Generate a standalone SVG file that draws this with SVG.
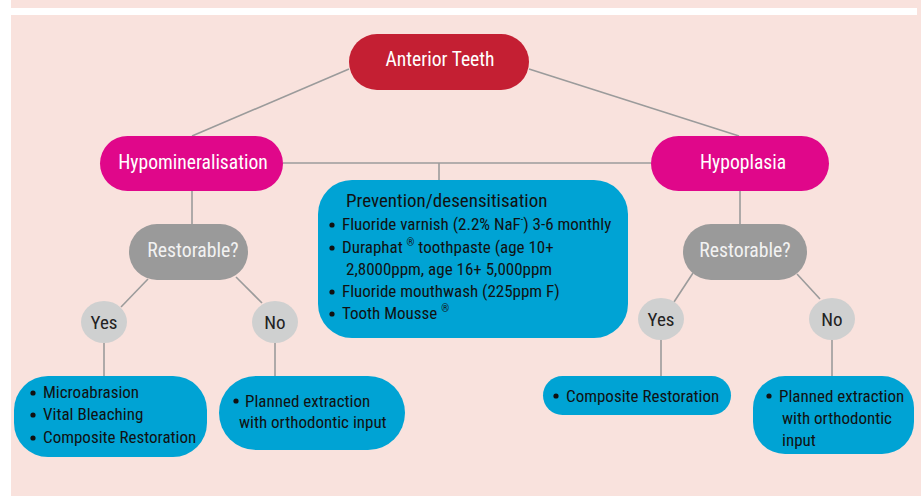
<svg xmlns="http://www.w3.org/2000/svg" width="921" height="496" viewBox="0 0 921 496">
<style>
text{font-family:"Liberation Sans Narrow","Roboto Condensed","DejaVu Sans Condensed","Liberation Sans",sans-serif;}
.lnk{stroke:#9b9b9b;stroke-width:1.6;fill:none}
.top{fill:#c41f33}
.mag{fill:#e0078a}
.q{fill:#9a9a9a}
.yn{fill:#cfd0d0}
.blue{fill:#00a3d4}
.wt{fill:#ffffff;font-size:19.6px;text-anchor:middle}
.qt{fill:#f2f2f2;font-size:19.8px;text-anchor:middle}
.ynt{fill:#222222;font-size:19px;text-anchor:middle}
.bt{fill:#111111;font-size:17px}
.hd{fill:#111111;font-size:19px}
.sup{font-size:10px}
</style>
<rect x="0" y="0" width="921" height="496" fill="#ffffff"/>
<rect x="11" y="0" width="910" height="496" fill="#f9e2dd"/>
<rect x="11" y="8" width="906" height="7" fill="#ffffff"/>

<g id="connectors">
<line class="lnk" x1="349" y1="69" x2="192" y2="136"/>
<line class="lnk" x1="529" y1="69" x2="739" y2="136"/>
<line class="lnk" x1="283" y1="163" x2="651" y2="163"/>
<line class="lnk" x1="439" y1="163" x2="439" y2="181"/>
<line class="lnk" x1="192" y1="191" x2="192" y2="224"/>
<line class="lnk" x1="740" y1="191" x2="740" y2="224"/>
<line class="lnk" x1="148" y1="279" x2="121" y2="307"/>
<line class="lnk" x1="236" y1="277" x2="262" y2="303"/>
<line class="lnk" x1="693" y1="273" x2="674" y2="302"/>
<line class="lnk" x1="797" y1="274" x2="820" y2="299"/>
<line class="lnk" x1="104" y1="343" x2="104" y2="376"/>
<line class="lnk" x1="275" y1="343" x2="275" y2="376"/>
<line class="lnk" x1="661" y1="340" x2="661" y2="376"/>
<line class="lnk" x1="832" y1="340" x2="832" y2="376"/>
</g>

<g id="anterior-teeth">
<rect class="top" x="349" y="34" width="180" height="56" rx="28"/>
<text class="wt" x="440" y="66">Anterior Teeth</text>
</g>

<g id="hypomineralisation">
<rect class="mag" x="100" y="136" width="183" height="55" rx="27.5"/>
<text class="wt" x="193" y="169">Hypomineralisation</text>
</g>

<g id="hypoplasia">
<rect class="mag" x="651" y="136" width="178" height="55" rx="27.5"/>
<text class="wt" x="743" y="169">Hypoplasia</text>
</g>

<g id="prevention">
<rect class="blue" x="318" y="180" width="310" height="158" rx="34"/>
<text class="hd" x="346" y="207">Prevention/desensitisation</text>
<circle cx="332" cy="225" r="2.6" fill="#111"/>
<text class="bt" x="342" y="230">Fluoride varnish (2.2% NaF<tspan class="sup" dy="-7">-</tspan><tspan dy="7">) 3-6 monthly</tspan></text>
<circle cx="332" cy="248" r="2.6" fill="#111"/>
<text class="bt" x="342" y="253">Duraphat <tspan class="sup" dy="-7">®</tspan><tspan dy="7"> toothpaste (age 10+</tspan></text>
<text class="bt" x="346" y="275">2,8000ppm, age 16+ 5,000ppm</text>
<circle cx="332" cy="292" r="2.6" fill="#111"/>
<text class="bt" x="342" y="297">Fluoride mouthwash (225ppm F)</text>
<circle cx="332" cy="314" r="2.6" fill="#111"/>
<text class="bt" x="342" y="319">Tooth Mousse <tspan class="sup" dy="-7">®</tspan></text>
</g>

<g id="restorable-left">
<rect class="q" x="129" y="224" width="119" height="56" rx="28"/>
<text class="qt" x="193" y="257">Restorable?</text>
</g>

<g id="restorable-right">
<rect class="q" x="683" y="224" width="124" height="56" rx="28"/>
<text class="qt" x="745" y="257">Restorable?</text>
</g>

<g id="yes-left">
<ellipse class="yn" cx="104" cy="322" rx="23" ry="21"/>
<text class="ynt" x="104" y="329">Yes</text>
</g>
<g id="no-left">
<ellipse class="yn" cx="275" cy="322" rx="23" ry="21"/>
<text class="ynt" x="275" y="329">No</text>
</g>
<g id="yes-right">
<ellipse class="yn" cx="661" cy="319" rx="23" ry="21"/>
<text class="ynt" x="661" y="326">Yes</text>
</g>
<g id="no-right">
<ellipse class="yn" cx="832" cy="319" rx="23" ry="21"/>
<text class="ynt" x="832" y="326">No</text>
</g>

<g id="left-yes-treatments">
<rect class="blue" x="14" y="376" width="193" height="81" rx="34"/>
<circle cx="33" cy="393" r="2.6" fill="#111"/>
<text class="bt" x="43" y="398">Microabrasion</text>
<circle cx="33" cy="415" r="2.6" fill="#111"/>
<text class="bt" x="43" y="420">Vital Bleaching</text>
<circle cx="33" cy="438" r="2.6" fill="#111"/>
<text class="bt" x="43" y="443">Composite Restoration</text>
</g>

<g id="left-no-treatment">
<rect class="blue" x="219" y="376" width="186" height="74" rx="37"/>
<circle cx="236" cy="401" r="2.6" fill="#111"/>
<text class="bt" x="245" y="407">Planned extraction</text>
<text class="bt" x="239" y="428">with orthodontic input</text>
</g>

<g id="right-yes-treatment">
<rect class="blue" x="543" y="376" width="188" height="39" rx="19.5"/>
<circle cx="556" cy="396" r="2.6" fill="#111"/>
<text class="bt" x="566" y="402">Composite Restoration</text>
</g>

<g id="right-no-treatment">
<rect class="blue" x="753" y="376" width="161" height="78" rx="32"/>
<circle cx="769" cy="396" r="2.6" fill="#111"/>
<text class="bt" x="779" y="402">Planned extraction</text>
<text class="bt" x="782" y="424">with orthodontic</text>
<text class="bt" x="782" y="446">input</text>
</g>
</svg>
